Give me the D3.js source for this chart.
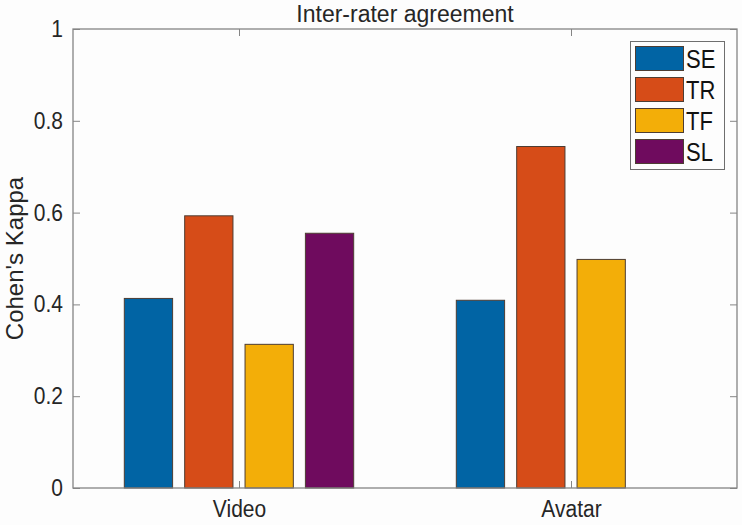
<!DOCTYPE html>
<html>
<head>
<meta charset="utf-8">
<script src="https://cdn.jsdelivr.net/npm/d3@7"></script>
<style>
  body { margin: 0; background: #fdfdfd; }
  svg { display: block; font-family: "Liberation Sans", Arial, sans-serif; }
</style>
</head>
<body>
<script>
//-----------------Data----------------

const groups = ["Video", "Avatar"];
const seriesNames = ["SE", "TR", "TF", "SL"];
const seriesColors = ["#0164a4", "#d64c18", "#f3ae08", "#6f0b5e"];
const videoValues = [0.413, 0.593, 0.313, 0.555];
const avatarValues = [0.409, 0.744, 0.498, null];
const yTicks = [0, 0.2, 0.4, 0.6, 0.8, 1];

const width = 742;
const height = 525;
const plotLeft = 73, plotRight = 737, plotTop = 29, plotBottom = 488;
const axisColor = "#858585";
const textColor = "#262626";
const stretch = "scale(1,1.13)"; // the original text looks a bit tall and narrow

const rows = [];
[videoValues, avatarValues].forEach((vals, g) => {
  vals.forEach((v, s) => {
    if (v !== null) rows.push({ group: g + 1, series: s, value: v });
  });
});

//-----------------SVG----------------

const svg = d3.select("body").append("svg").attr("width", width).attr("height", height);

const xScale = d3.scaleLinear().domain([0.5, 2.5]).range([plotLeft, plotRight]);
const yScale = d3.scaleLinear().domain([0, 1]).range([plotBottom, plotTop]);

// matlab style grouped bars: 4 series -> group width 4/5.5
const groupWidth = Math.min(0.8, seriesNames.length / (seriesNames.length + 1.5));
const slot = groupWidth / seriesNames.length;
const barWidth = slot * 0.8;

//-------------Bars----------------

svg
  .selectAll("rect.bar")
  .data(rows)
  .enter()
  .append("rect")
  .attr("class", "bar")
  .attr("x", (d) => xScale(d.group + (d.series - 1.5) * slot - barWidth / 2))
  .attr("width", (d) => xScale(barWidth) - xScale(0))
  .attr("y", (d) => yScale(d.value))
  .attr("height", (d) => yScale(0) - yScale(d.value))
  .style("fill", (d) => seriesColors[d.series])
  .style("stroke", "#4d3d33")
  .style("stroke-width", 1);

//------------Axis----------------

const yAxis = d3.axisLeft(yScale).tickValues(yTicks).tickSize(-7).tickPadding(10).tickFormat((d) => d3.format("~g")(d));
const yAxisRight = d3.axisRight(yScale).tickValues(yTicks).tickSize(-7).tickFormat("");
const xAxis = d3.axisBottom(xScale).tickValues([1, 2]).tickSize(-7).tickPadding(11).tickFormat((d) => groups[d - 1]);
const xAxisTop = d3.axisTop(xScale).tickValues([1, 2]).tickSize(-7).tickFormat("");

svg.append("g").attr("transform", "translate(" + plotLeft + ",0)").call(yAxis);
svg.append("g").attr("transform", "translate(" + plotRight + ",0)").call(yAxisRight);
svg.append("g").attr("transform", "translate(0," + plotBottom + ")").call(xAxis);
svg.append("g").attr("transform", "translate(0," + plotTop + ")").call(xAxisTop);

svg.selectAll(".domain").remove();
svg.selectAll(".tick line").style("stroke", axisColor);
svg
  .selectAll(".tick text")
  .attr("transform", stretch)
  .style("fill", textColor)
  .style("font-size", "21px")
  .style("font-family", "Liberation Sans, Arial, sans-serif");

svg
  .append("rect")
  .attr("x", plotLeft)
  .attr("y", plotTop)
  .attr("width", plotRight - plotLeft)
  .attr("height", plotBottom - plotTop)
  .style("fill", "none")
  .style("stroke", axisColor)
  .style("stroke-width", 1.3);

//----------------Labels-----------------

svg
  .append("text")
  .text("Inter-rater agreement")
  .attr("x", (plotLeft + plotRight) / 2)
  .attr("y", 22)
  .style("text-anchor", "middle")
  .style("font-size", "23px")
  .style("fill", textColor);

svg
  .append("text")
  .text("Cohen's Kappa")
  .attr("transform", "translate(23," + (plotTop + plotBottom) / 2 + ") rotate(-90)")
  .style("text-anchor", "middle")
  .style("font-size", "24px")
  .style("fill", textColor);

//-----------Legend--------------

const legend = svg.append("g").attr("id", "legend");

legend
  .append("rect")
  .attr("x", 630.5)
  .attr("y", 41.5)
  .attr("width", 94)
  .attr("height", 128)
  .style("fill", "#fdfdfd")
  .style("stroke", "#6e6e6e")
  .style("stroke-width", 1);

const items = legend
  .selectAll("g.item")
  .data(seriesNames)
  .enter()
  .append("g")
  .attr("class", "item")
  .attr("transform", (d, i) => "translate(0," + (46.5 + i * 31) + ")");

items
  .append("rect")
  .attr("x", 635.5)
  .attr("y", 0)
  .attr("width", 48)
  .attr("height", 24)
  .style("fill", (d, i) => seriesColors[i])
  .style("stroke", "#4d3d33")
  .style("stroke-width", 1);

items
  .append("text")
  .text((d) => d)
  .attr("transform", "translate(686,21) " + stretch)
  .style("font-size", "22px")
  .style("fill", "#111");
</script>
</body>
</html>
